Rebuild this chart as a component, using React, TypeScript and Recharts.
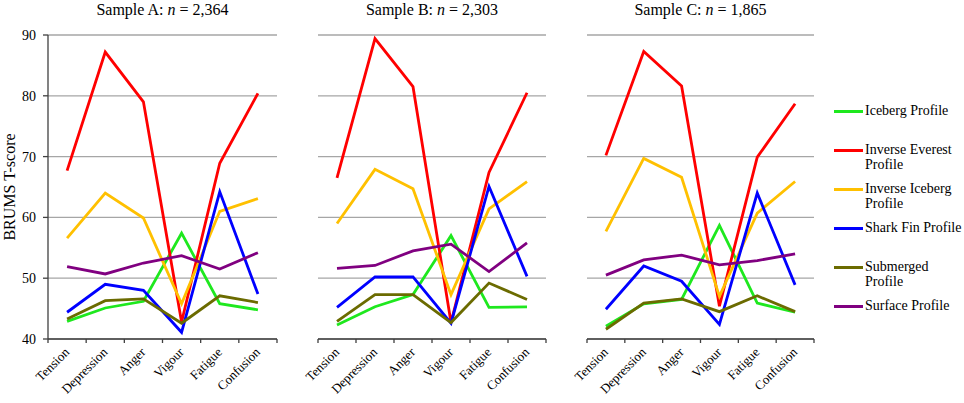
import React from "react";
import { LineChart, Line, XAxis, YAxis, CartesianGrid } from "recharts";

const categories = ["Tension", "Depression", "Anger", "Vigour", "Fatigue", "Confusion"];
const yTicks = [40, 50, 60, 70, 80, 90];

// Sample A: n = 2,364
const icebergA = [42.9, 45.1, 46.2, 57.4, 45.8, 44.8];
const everestA = [67.7, 87.2, 79.0, 42.8, 68.9, 80.4];
const invIcebergA = [56.6, 64.0, 59.9, 45.8, 61.0, 63.1];
const sharkFinA = [44.4, 49.0, 48.0, 41.1, 64.2, 47.4];
const submergedA = [43.3, 46.3, 46.6, 42.6, 47.1, 46.0];
const surfaceA = [51.9, 50.7, 52.5, 53.7, 51.5, 54.2];

// Sample B: n = 2,303
const icebergB = [42.3, 45.3, 47.3, 57.0, 45.2, 45.3];
const everestB = [66.5, 89.4, 81.5, 42.7, 67.4, 80.5];
const invIcebergB = [59.0, 67.9, 64.7, 47.3, 61.4, 65.9];
const sharkFinB = [45.2, 50.2, 50.2, 42.6, 65.1, 50.3];
const submergedB = [42.9, 47.3, 47.3, 42.7, 49.2, 46.5];
const surfaceB = [51.6, 52.1, 54.5, 55.6, 51.1, 55.8];

// Sample C: n = 1,865
const icebergC = [42.1, 45.8, 46.5, 58.7, 45.9, 44.4];
const everestC = [70.2, 87.3, 81.6, 45.4, 69.9, 78.7];
const invIcebergC = [57.7, 69.7, 66.6, 47.0, 60.7, 65.9];
const sharkFinC = [44.9, 52.0, 49.5, 42.4, 64.0, 48.9];
const submergedC = [41.6, 45.9, 46.6, 44.5, 47.1, 44.5];
const surfaceC = [50.5, 53.0, 53.8, 52.2, 52.9, 54.0];

const profiles = [
  { key: "iceberg", label: ["Iceberg Profile"], color: "#1ee81e" },
  { key: "everest", label: ["Inverse Everest", "Profile"], color: "#ff0000" },
  { key: "invIceberg", label: ["Inverse Iceberg", "Profile"], color: "#ffc000" },
  { key: "sharkFin", label: ["Shark Fin Profile"], color: "#0000ff" },
  { key: "submerged", label: ["Submerged", "Profile"], color: "#6b6b00" },
  { key: "surface", label: ["Surface Profile"], color: "#800080" },
];

const buildRows = (series: Record<string, number[]>) =>
  categories.map((category, i) => {
    const row: Record<string, string | number> = { category };
    Object.keys(series).forEach((k) => (row[k] = series[k][i]));
    return row;
  });

const samples = [
  {
    name: "A",
    n: "2,364",
    rows: buildRows({ iceberg: icebergA, everest: everestA, invIceberg: invIcebergA, sharkFin: sharkFinA, submerged: submergedA, surface: surfaceA }),
  },
  {
    name: "B",
    n: "2,303",
    rows: buildRows({ iceberg: icebergB, everest: everestB, invIceberg: invIcebergB, sharkFin: sharkFinB, submerged: submergedB, surface: surfaceB }),
  },
  {
    name: "C",
    n: "1,865",
    rows: buildRows({ iceberg: icebergC, everest: everestC, invIceberg: invIcebergC, sharkFin: sharkFinC, submerged: submergedC, surface: surfaceC }),
  },
];

const FONT = '"Liberation Serif", "Times New Roman", serif';
const AXIS = "#404040";

// excel-style category tick: marks on band edges, label rotated 45deg
function CategoryTick(props: any) {
  const { x, y, payload, index, visibleTicksCount } = props;
  const half = payload.offset ?? 0;
  const tx = x + 3;
  const ty = y + 14;
  return (
    <g>
      <line x1={x - half} x2={x - half} y1={y} y2={y + 4} stroke={AXIS} strokeWidth={1.3} />
      {index === visibleTicksCount - 1 && (
        <line x1={x + half} x2={x + half} y1={y} y2={y + 4} stroke={AXIS} strokeWidth={1.3} />
      )}
      <text x={tx} y={ty} transform={`rotate(-45, ${tx}, ${ty})`} textAnchor="end" fontSize={13} fontFamily={FONT} fill="#000">
        {payload.value}
      </text>
    </g>
  );
}

// chart boxes: left, width, margin left/right so that the plot areas line up with the reference
const panels = [
  { left: 0, width: 290, mLeft: 0, mRight: 13, showY: true },
  { left: 270, width: 290, mLeft: 48, mRight: 14, showY: false },
  { left: 540, width: 290, mLeft: 47, mRight: 16, showY: false },
];

export default function App() {
  return (
    <div style={{ position: "absolute", left: 0, top: 0, width: 964, height: 403, background: "#fff", fontFamily: FONT }}>
      {samples.map((s, i) => {
        const p = panels[i];
        const plotLeft = p.left + p.mLeft + (p.showY ? 48 : 0);
        const plotRight = p.left + p.width - p.mRight;
        return (
          <React.Fragment key={s.name}>
            <div style={{ position: "absolute", left: p.left, top: 0 }}>
              <LineChart
                width={p.width}
                height={403}
                data={s.rows}
                margin={{ top: 35, right: p.mRight, bottom: 0, left: p.mLeft }}
              >
                <CartesianGrid vertical={false} stroke="#a6a6a6" strokeWidth={1.3} />
                <XAxis
                  dataKey="category"
                  scale="band"
                  height={64}
                  tickLine={false}
                  tickSize={0}
                  tickMargin={0}
                  interval={0}
                  axisLine={{ stroke: AXIS, strokeWidth: 1.3 }}
                  tick={<CategoryTick />}
                />
                <YAxis
                  hide={!p.showY}
                  width={48}
                  domain={[40, 90]}
                  ticks={yTicks}
                  tickSize={5}
                  tickMargin={7}
                  axisLine={{ stroke: AXIS, strokeWidth: 1.3 }}
                  tickLine={{ stroke: AXIS, strokeWidth: 1.3 }}
                  tick={{ fontSize: 14, fontFamily: FONT, fill: "#000" }}
                  label={{
                    value: "BRUMS T-score",
                    angle: -90,
                    position: "insideLeft",
                    offset: 9,
                    style: { textAnchor: "middle", fontSize: 16, fontFamily: FONT, fill: "#000" },
                  }}
                />
                {profiles.map((pr) => (
                  <Line
                    key={pr.key}
                    dataKey={pr.key}
                    stroke={pr.color}
                    strokeWidth={2.8}
                    dot={false}
                    activeDot={false}
                    isAnimationActive={false}
                  />
                ))}
              </LineChart>
            </div>
            <div
              style={{
                position: "absolute",
                left: plotLeft,
                width: plotRight - plotLeft,
                top: 0,
                lineHeight: "20px",
                fontSize: 16,
                textAlign: "center",
                color: "#000",
              }}
            >
              Sample {s.name}: <i>n</i> = {s.n}
            </div>
          </React.Fragment>
        );
      })}

      {/* legend */}
      {profiles.map((pr, i) => (
        <div key={pr.key} style={{ position: "absolute", left: 834, top: 111 + i * 39 - 8, display: "flex", alignItems: "flex-start" }}>
          <div style={{ width: 29, height: 3, background: pr.color, marginTop: 7 }} />
          <div style={{ marginLeft: 2, fontSize: 14, lineHeight: "15px", color: "#000", whiteSpace: "nowrap" }}>
            {pr.label.map((l) => (
              <div key={l}>{l}</div>
            ))}
          </div>
        </div>
      ))}
    </div>
  );
}
